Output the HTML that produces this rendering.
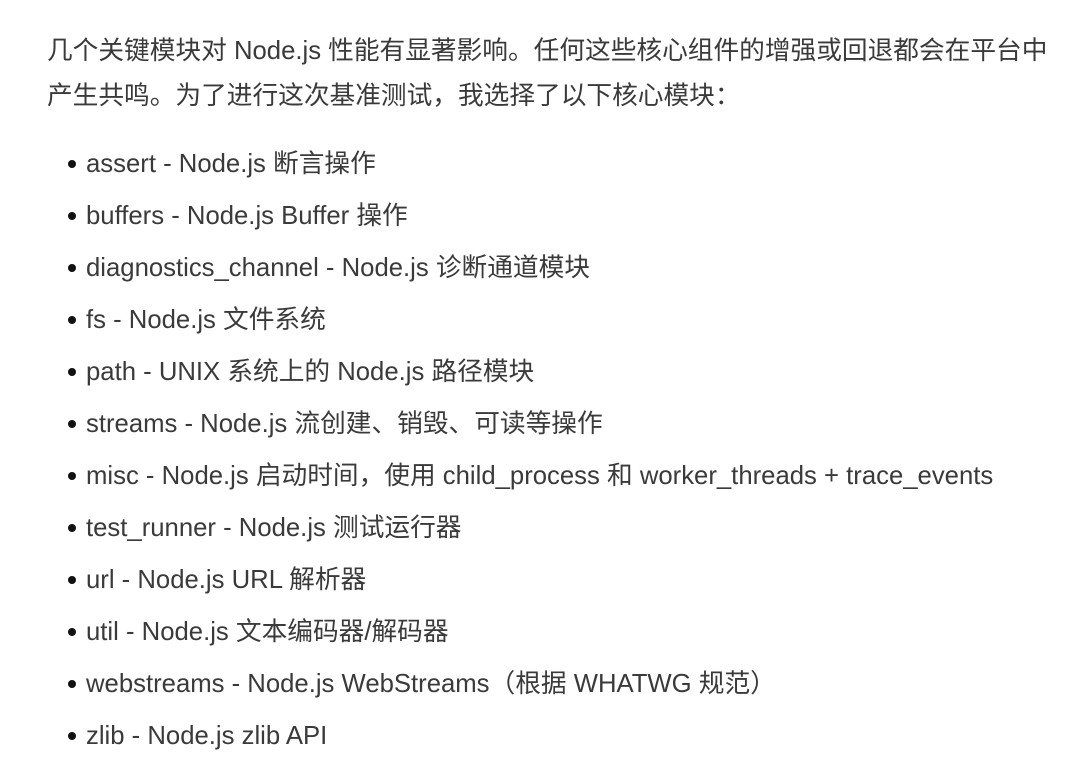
<!DOCTYPE html>
<html><head><meta charset="utf-8"><style>
html,body{margin:0;padding:0;background:#fff;width:1080px;height:779px;overflow:hidden}
body{font-family:"Liberation Sans","Noto Sans CJK SC",sans-serif;color:#3a3a3a;font-size:25.7px}
.p{position:absolute;left:47px;top:29px;line-height:45px;white-space:nowrap}
.l{position:absolute;left:86px;top:138px;line-height:52px;white-space:nowrap}
.l div{position:relative}
.l div::before{content:"";position:absolute;left:-18px;top:22px;width:8px;height:8px;border-radius:50%;background:#111}
</style></head><body>
<div class="p">几个关键模块对 Node.js 性能有显著影响。任何这些核心组件的增强或回退都会在平台中<br>产生共鸣。为了进行这次基准测试，我选择了以下核心模块：</div>
<div class="l">
<div>assert - Node.js 断言操作</div>
<div>buffers - Node.js Buffer 操作</div>
<div>diagnostics_channel - Node.js 诊断通道模块</div>
<div>fs - Node.js 文件系统</div>
<div>path - UNIX 系统上的 Node.js 路径模块</div>
<div>streams - Node.js 流创建、销毁、可读等操作</div>
<div>misc - Node.js 启动时间，使用 child_process 和 worker_threads + trace_events</div>
<div>test_runner - Node.js 测试运行器</div>
<div>url - Node.js URL 解析器</div>
<div>util - Node.js 文本编码器/解码器</div>
<div>webstreams - Node.js WebStreams（根据 WHATWG 规范）</div>
<div>zlib - Node.js zlib API</div>
</div>
</body></html>
